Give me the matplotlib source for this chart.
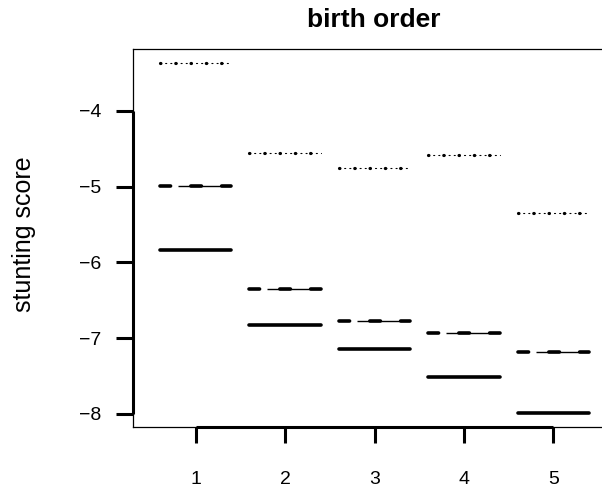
import matplotlib
matplotlib.use("Agg")
import matplotlib.pyplot as plt
import numpy as np

categories = [1, 2, 3, 4, 5]
tick_labels = ["1", "2", "3", "4", "5"]
solid_vals = [-5.835, -6.83, -7.14, -7.52, -7.99]
dashed_vals = [-4.99, -6.35, -6.77, -6.93, -7.18]
dotted_vals = [-3.362, -4.55, -4.757, -4.585, -5.35]
y_ticks = [-8, -7, -6, -5, -4]
title = "birth order"
ylabel = "stunting score"

plt.rcParams["font.family"] = ["Liberation Sans", "DejaVu Sans"]
plt.rcParams["lines.scale_dashes"] = False

W, H = 602, 493
fig = plt.figure(figsize=(W / 100, H / 100), dpi=100)
ax = fig.add_axes([133 / W, (H - 427) / H, (616 - 133) / W, (427 - 49) / H])

half = 0.4
for x, s, d, p in zip(categories, solid_vals, dashed_vals, dotted_vals):
    # solid
    ax.plot([x - half, x + half], [s, s], color="black", lw=2.6,
            solid_capstyle="round")
    # dashed (thick dashes + thin connecting line)
    ax.plot([x - half, x + half], [d, d], color="black", lw=2.6,
            dashes=(7.6, 14.6), dash_capstyle="round")
    ax.plot([x - half / 2, x + half], [d, d], color="black", lw=1.0,
            solid_capstyle="butt")
    # dotted (big dots + small dots)
    ax.plot([x - half, x + half], [p, p], color="black", lw=2.3,
            dashes=(0.3, 10.7), dash_capstyle="round")
    ax.plot([x - half, x + half], [p, p], color="black", lw=0.8,
            dashes=(0.8, 2.9), dash_capstyle="round")

ax.set_xlim(0.3, 5.7)
ax.set_ylim(-8.175, -3.181)

for sp in ax.spines.values():
    sp.set_linewidth(0.9)

ax.set_xticks(categories)
ax.set_xticklabels(tick_labels)
ax.set_yticks(y_ticks)
ax.set_yticklabels([f"\u2212{abs(v)}" for v in y_ticks])
ax.tick_params(axis="x", length=11.5, width=2.2, pad=20.5, labelsize=14)
ax.tick_params(axis="y", length=12, width=2.2, pad=11, labelsize=14)

# thick axis lines spanning tick range
ax.plot([categories[0], categories[-1]], [0, 0], color="black", lw=2.2,
        transform=ax.get_xaxis_transform(), clip_on=False, solid_capstyle="butt")
ax.plot([0, 0], [y_ticks[0], y_ticks[-1]], color="black", lw=2.2,
        transform=ax.get_yaxis_transform(), clip_on=False, solid_capstyle="butt")

fig.text(374 / W, 1 - 27 / H, title, ha="center", va="baseline",
         fontsize=19, fontweight="bold")
fig.text(24 / W, 1 - 234 / H, ylabel, ha="center", va="center",
         rotation=90, fontsize=18)

fig.savefig("out.png", dpi=100)
